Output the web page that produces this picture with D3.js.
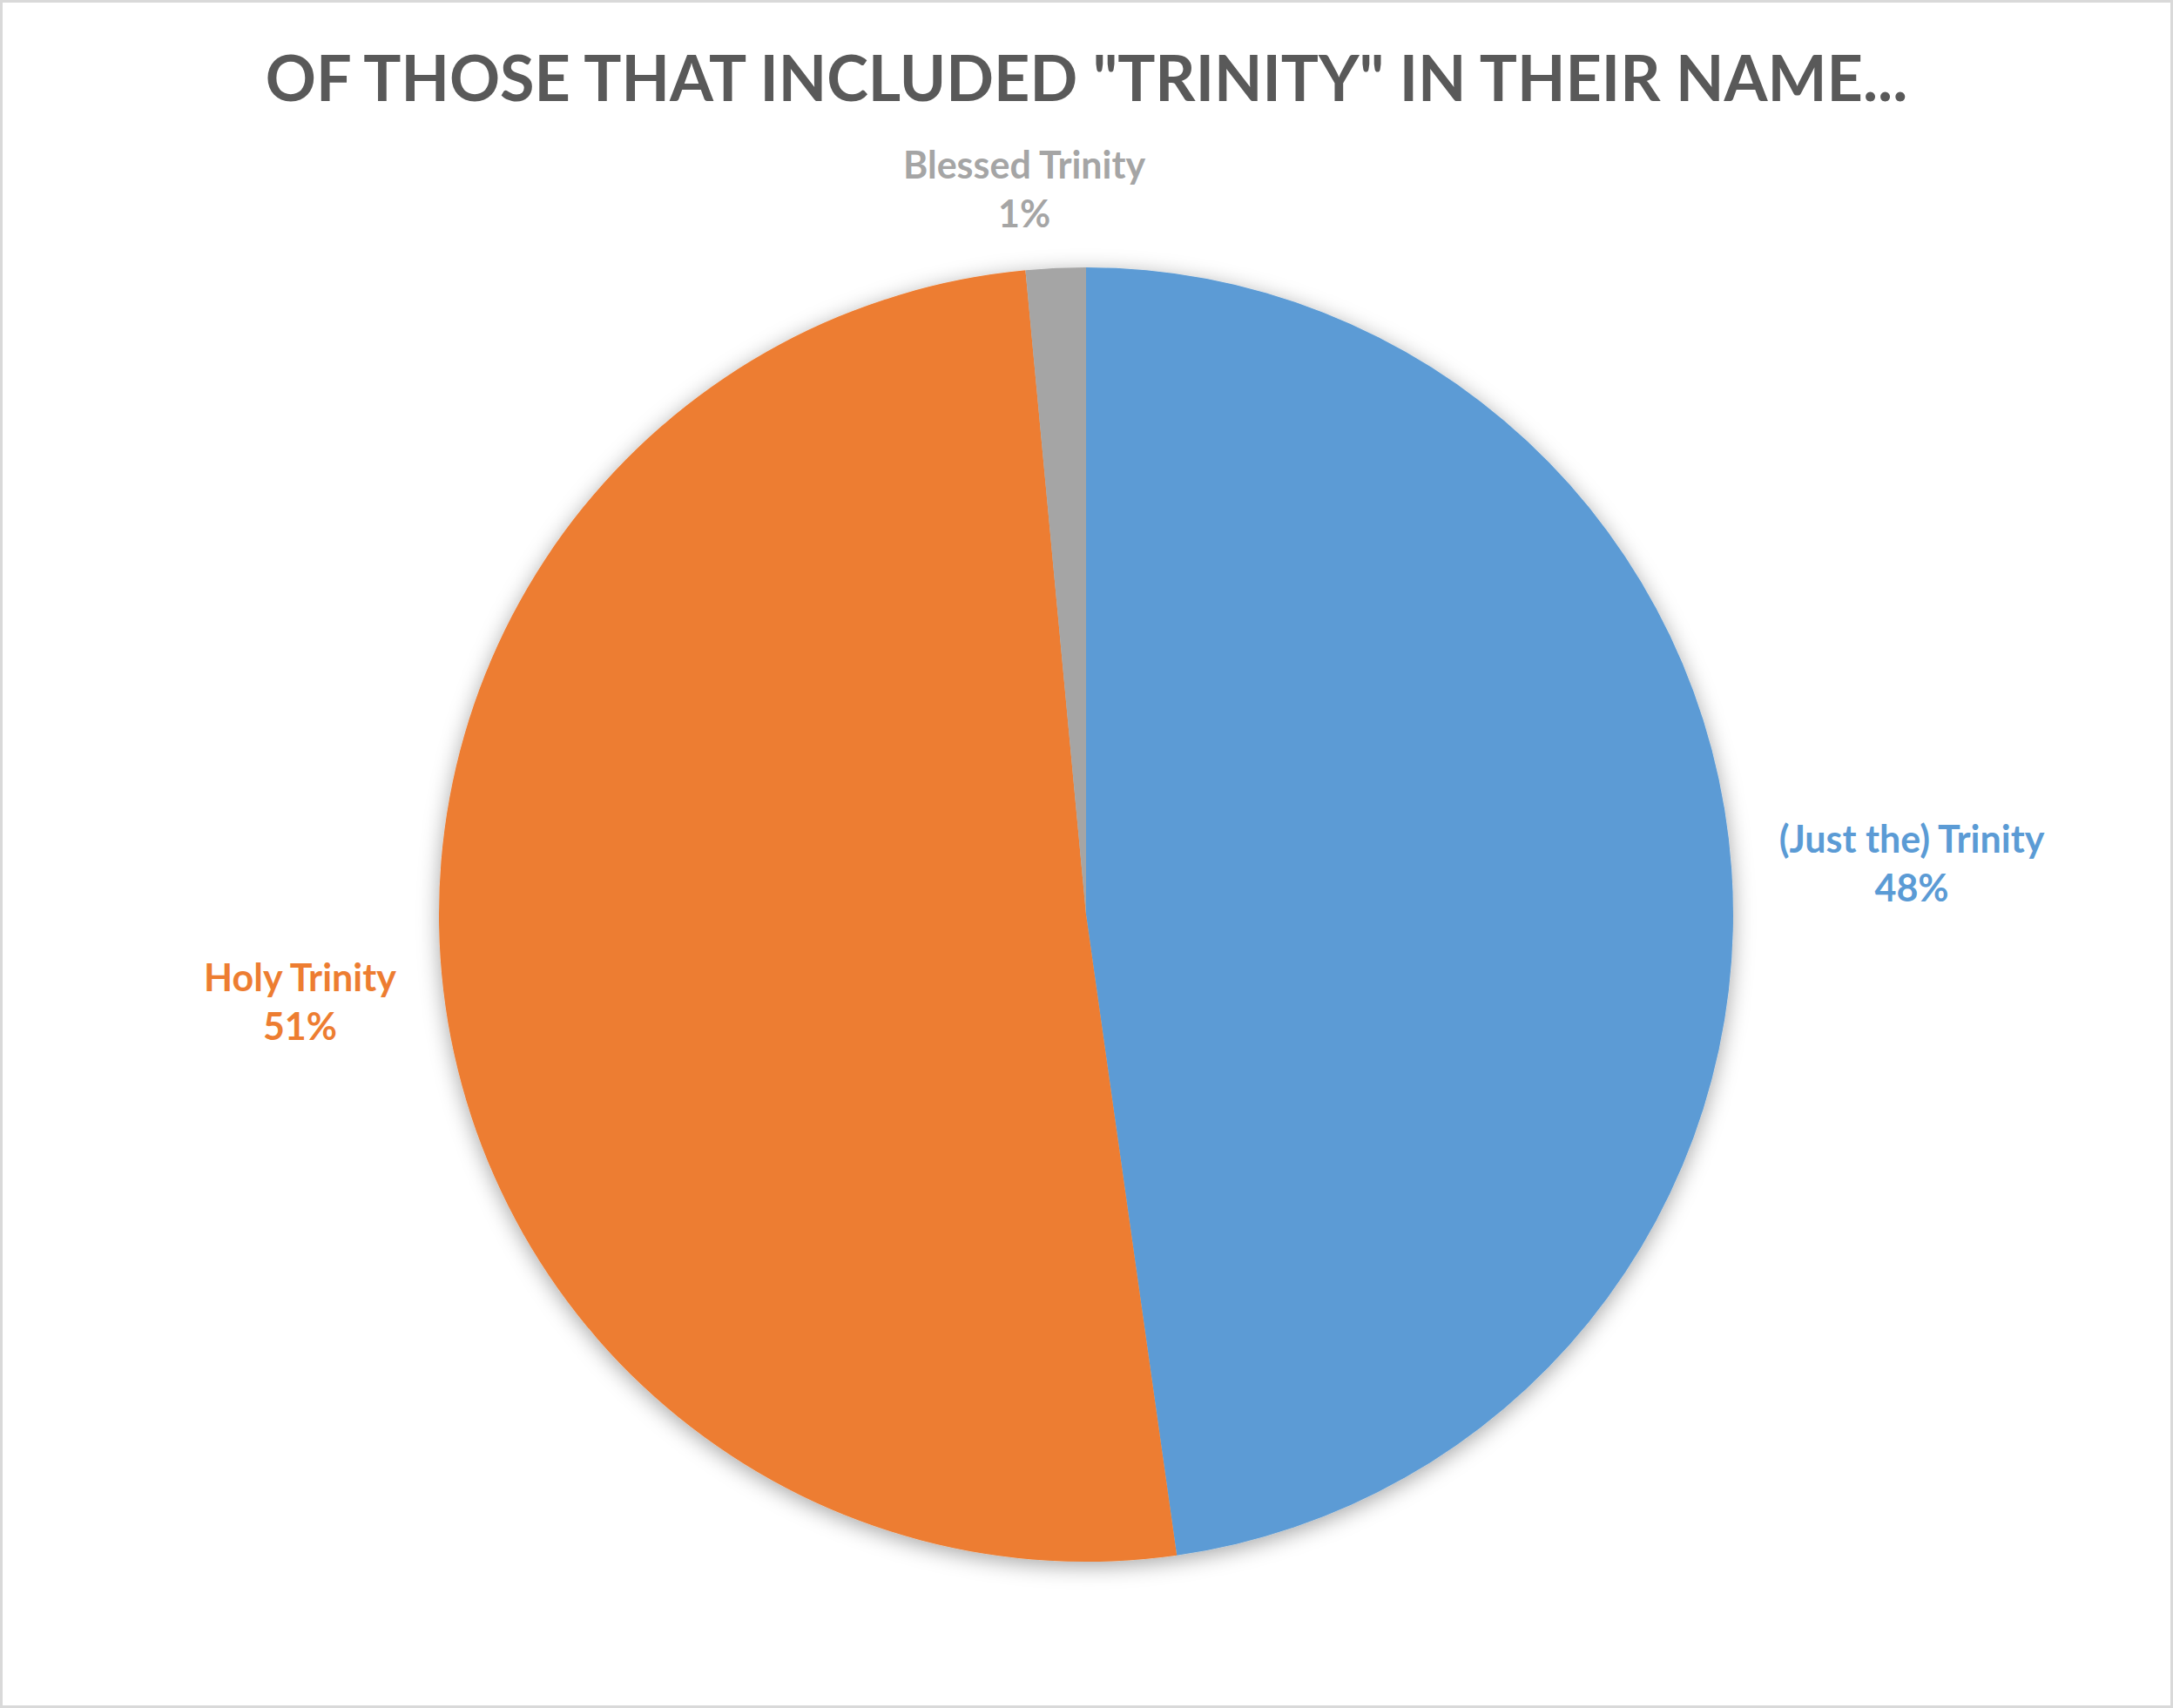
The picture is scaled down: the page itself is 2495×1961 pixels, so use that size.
<!DOCTYPE html>
<html>
<head>
<meta charset="utf-8">
<script src="https://cdnjs.cloudflare.com/ajax/libs/d3/7.8.5/d3.min.js"></script>
<style>
  html, body { margin: 0; padding: 0; background: #fff; }
  svg { display: block; }
</style>
</head>
<body>
<script>
// slice data (counts -> 48%, 51%, 1%)
var categories = ["(Just the) Trinity", "Holy Trinity", "Blessed Trinity"],
	values = [32, 34, 1],
	colors = ["#5B9BD5", "#ED7D31", "#A5A5A5"],
	title = "OF THOSE THAT INCLUDED \"TRINITY\" IN THEIR NAME...";

var w = 2495, h = 1961,
	cx = 1247, cy = 1050,
	r = 743,
	font = "Lato, 'Open Sans', sans-serif";

var svg = d3.select("body")
			.append("svg")
			.attr("width", w)
			.attr("height", h);

// outer chart border
svg.append("rect")
   .attr("x", 1.5).attr("y", 1.5)
   .attr("width", w - 3).attr("height", h - 3)
   .attr("fill", "#fff")
   .attr("stroke", "#D9D9D9")
   .attr("stroke-width", 3);

var defs = svg.append("defs");
var flt = defs.append("filter")
			  .attr("id", "shadow")
			  .attr("x", "-10%").attr("y", "-10%")
			  .attr("width", "120%").attr("height", "120%");
flt.append("feDropShadow")
   .attr("dx", 0).attr("dy", 5)
   .attr("stdDeviation", 12)
   .attr("flood-color", "#000")
   .attr("flood-opacity", 0.35);

svg.append("text")
   .attr("x", w / 2)
   .attr("y", 116)
   .attr("text-anchor", "middle")
   .attr("fill", "#595959")
   .attr("font-family", font)
   .attr("font-weight", "bold")
   .attr("font-size", "72px")
   .text(title);

var pie = d3.pie().sort(null).value(function(d) { return d; });
var arcs = pie(values);

var arc = d3.arc().innerRadius(0).outerRadius(r);

var g = svg.append("g")
		   .attr("transform", "translate(" + cx + "," + cy + ")");

g.append("g")
 .attr("filter", "url(#shadow)")
 .selectAll("path")
 .data(arcs)
 .enter()
 .append("path")
 .attr("d", arc)
 .attr("fill", function(d, i) { return colors[i]; });

var total = d3.sum(values);
var pad = [55, 55, 38];

var labels = g.selectAll("g.lbl")
			  .data(arcs)
			  .enter()
			  .append("g")
			  .attr("class", "lbl");

labels.each(function(d, i) {
	var t = d3.select(this).append("text")
			  .attr("text-anchor", "middle")
			  .attr("fill", colors[i])
			  .attr("font-family", font)
			  .attr("font-weight", "bold")
			  .attr("font-size", "43px");
	t.append("tspan").attr("x", 0).attr("y", 0).text(categories[i]);
	t.append("tspan").attr("x", 0).attr("y", 56)
	 .text(Math.round(d.value / total * 100) + "%");

	var bb = t.node().getBBox();
	var a = (d.startAngle + d.endAngle) / 2,
		dx = Math.sin(a), dy = -Math.cos(a);
	// small slices near the top sit a little further left in the original
	if (i == 2) dx -= 0.03;
	var px = dx * (r + pad[i]) + dx * bb.width / 2,
		py = dy * (r + pad[i]) + dy * bb.height / 2;
	// shift so the box centre sits at (px, py)
	var ox = px - (bb.x + bb.width / 2),
		oy = py - (bb.y + bb.height / 2);
	d3.select(this).attr("transform", "translate(" + ox + "," + oy + ")");
});
</script>
</body>
</html>
